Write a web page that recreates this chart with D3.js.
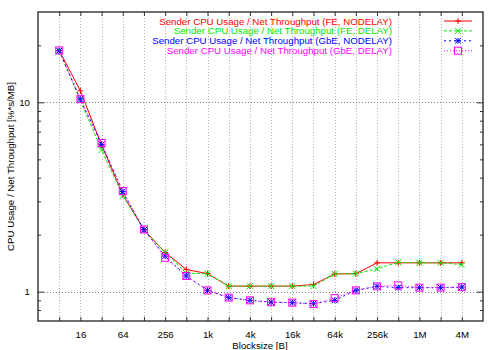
<!DOCTYPE html>
<html>
<head>
<meta charset="utf-8">
<script src="https://cdnjs.cloudflare.com/ajax/libs/d3/7.8.5/d3.min.js"></script>
<style>
  body { margin: 0; background: #fff; }
  svg text { font-family: "Liberation Sans", Arial, Helvetica, sans-serif; }
</style>
</head>
<body>
<div id="chart"></div>
<script>
// block sizes in bytes (8 .. 4M)
var blocksizes = [8, 16, 32, 64, 128, 256, 512, 1024, 2048, 4096, 8192, 16384, 32768,
                  65536, 131072, 262144, 524288, 1048576, 2097152, 4194304];

// sender CPU usage / net throughput [%*s/MB]
var feNodelay  = [18.8, 11.5, 5.95, 3.25, 2.13, 1.61, 1.31, 1.245, 1.07, 1.07, 1.07, 1.07, 1.09, 1.24, 1.245, 1.42, 1.42, 1.42, 1.42, 1.42];
var feDelay    = [18.8, 10.2, 5.6, 3.22, 2.12, 1.61, 1.25, 1.245, 1.07, 1.07, 1.07, 1.07, 1.07, 1.24, 1.245, 1.32, 1.43, 1.42, 1.42, 1.39];
var gbeNodelay = [18.7, 10.4, 6.0, 3.38, 2.12, 1.54, 1.21, 1.016, 0.93, 0.90, 0.88, 0.875, 0.864, 0.90, 1.016, 1.067, 1.05, 1.05, 1.05, 1.057];
var gbeDelay   = [18.8, 10.4, 6.1, 3.40, 2.13, 1.51, 1.21, 1.016, 0.93, 0.90, 0.88, 0.875, 0.86, 0.925, 1.016, 1.067, 1.08, 1.05, 1.05, 1.057];

var seriesNames = ["Sender CPU Usage / Net Throughput (FE, NODELAY)",
                   "Sender CPU Usage / Net Throughput (FE, DELAY)",
                   "Sender CPU Usage / Net Throughput (GbE, NODELAY)",
                   "Sender CPU Usage / Net Throughput (GbE, DELAY)"];

// tick labels
var xTickValues = [16, 64, 256, 1024, 4096, 16384, 65536, 262144, 1048576, 4194304];
var xTickLabels = ["16", "64", "256", "1k", "4k", "16k", "64k", "256k", "1M", "4M"];
var yTickValues = [1, 10];
var yTickLabels = ["1", "10"];
var yMinorTicks = [0.8, 0.9, 2, 3, 4, 5, 6, 7, 8, 9, 20];

var w = 500, h = 350;
var margin = {top: 12, right: 17, bottom: 29, left: 38};
var iw = w - margin.left - margin.right;
var ih = h - margin.top - margin.bottom;
var fontSize = "9.7px";

var svg = d3.select("#chart").append("svg")
  .attr("width", w).attr("height", h);

var g = svg.append("g").attr("transform", "translate(" + margin.left + "," + margin.top + ")");

var x = d3.scaleLog().base(2).domain([4, 8388608]).range([0, iw]);
var y = d3.scaleLog().domain([0.7, 30]).range([ih, 0]);

//grid: vertical at every block size, horizontal at decades
g.append("g").selectAll("line").data(blocksizes).enter().append("line")
  .attr("x1", function(d){ return Math.round(x(d)) + 0.5; })
  .attr("x2", function(d){ return Math.round(x(d)) + 0.5; })
  .attr("y1", 0).attr("y2", ih)
  .attr("stroke", "#b0b0b0").attr("stroke-width", 1).attr("stroke-dasharray", "1,2");

g.append("g").selectAll("line").data(yTickValues).enter().append("line")
  .attr("x1", 0).attr("x2", iw)
  .attr("y1", function(d){ return Math.round(y(d)) + 0.5; })
  .attr("y2", function(d){ return Math.round(y(d)) + 0.5; })
  .attr("stroke", "#808080").attr("stroke-width", 1).attr("stroke-dasharray", "1,2");

// axes (ticks on all four sides, like gnuplot)
var xBottom = d3.axisBottom(x).tickValues(blocksizes).tickFormat("");
var xTop = d3.axisTop(x).tickValues(blocksizes).tickFormat("");
var xLab = d3.axisBottom(x).tickValues(xTickValues).tickSize(0).tickPadding(10)
  .tickFormat(function(d, i){ return xTickLabels[i]; });

g.append("g").attr("class", "axis").attr("transform", "translate(0," + ih + ")").call(xBottom.tickSizeInner(-4).tickSizeOuter(0));
g.append("g").attr("class", "axis").call(xTop.tickSizeInner(-4).tickSizeOuter(0));
g.append("g").attr("class", "lab").attr("transform", "translate(0," + ih + ")").call(xLab);

g.append("g").attr("class", "axis").call(d3.axisLeft(y).tickValues(yTickValues).tickSizeInner(-6).tickSizeOuter(0).tickPadding(8)
  .tickFormat(function(d, i){ return yTickLabels[i]; }));
g.append("g").attr("class", "axis").call(d3.axisLeft(y).tickValues(yMinorTicks).tickSizeInner(-3).tickSizeOuter(0).tickFormat(""));
g.append("g").attr("class", "axis").attr("transform", "translate(" + iw + ",0)")
  .call(d3.axisRight(y).tickValues(yTickValues).tickSizeInner(-6).tickSizeOuter(0).tickFormat(""));
g.append("g").attr("class", "axis").attr("transform", "translate(" + iw + ",0)")
  .call(d3.axisRight(y).tickValues(yMinorTicks).tickSizeInner(-3).tickSizeOuter(0).tickFormat(""));

g.selectAll(".axis .domain").remove();
g.selectAll(".lab .domain").remove();
g.selectAll(".axis line").attr("stroke", "#333");
g.selectAll(".axis text, .lab text").attr("font-size", fontSize).attr("fill", "#000")
  .style("font-family", "Liberation Sans, Arial, sans-serif");

// border
g.append("rect").attr("x", 0).attr("y", 0).attr("width", iw).attr("height", ih)
  .attr("fill", "none").attr("stroke", "#222").attr("stroke-width", 1.3);

// axis titles
svg.append("text").attr("x", margin.left + 222).attr("y", 349)
  .attr("text-anchor", "middle").attr("font-size", fontSize).text("Blocksize [B]");
svg.append("text").attr("transform", "translate(14," + (margin.top + ih / 2) + ") rotate(-90)")
  .attr("text-anchor", "middle").attr("font-size", fontSize).text("CPU Usage / Net Throughput [%*s/MB]");

// series
var series = [
  {name: seriesNames[0], values: feNodelay,  color: "#ff0000", dash: null,   mark: "plus"},
  {name: seriesNames[1], values: feDelay,    color: "#00ee00", dash: "3,2",  mark: "cross"},
  {name: seriesNames[2], values: gbeNodelay, color: "#0000ff", dash: "2,3",  mark: "star"},
  {name: seriesNames[3], values: gbeDelay,   color: "#ff00ff", dash: "1,2",  mark: "box"}
];

var line = d3.line()
  .x(function(d, i){ return x(blocksizes[i]); })
  .y(function(d){ return y(d); });

function drawMark(sel, type, color) {
  var s = 3;
  if (type == "plus" || type == "star") {
    sel.append("path").attr("d", "M" + (-s) + ",0H" + s + "M0," + (-s) + "V" + s)
      .attr("stroke", color).attr("fill", "none");
  }
  if (type == "cross" || type == "star") {
    sel.append("path").attr("d", "M" + (-s) + "," + (-s) + "L" + s + "," + s + "M" + (-s) + "," + s + "L" + s + "," + (-s))
      .attr("stroke", color).attr("fill", "none");
  }
  if (type == "box") {
    sel.append("rect").attr("x", -3.5).attr("y", -3.5).attr("width", 7).attr("height", 7)
      .attr("stroke", color).attr("fill", "none");
  }
}

series.forEach(function(s){
  g.append("path").datum(s.values)
    .attr("d", line)
    .attr("fill", "none")
    .attr("stroke", s.color)
    .attr("stroke-width", 1)
    .attr("stroke-dasharray", s.dash);

  g.append("g").selectAll("g").data(s.values).enter().append("g")
    .attr("transform", function(d, i){ return "translate(" + x(blocksizes[i]) + "," + y(d) + ")"; })
    .each(function(){ drawMark(d3.select(this), s.mark, s.color); });
});

// legend
var legend = svg.append("g").attr("transform", "translate(0,24.5)");
series.forEach(function(s, i){
  var row = legend.append("g").attr("transform", "translate(0," + (i * 9.9) + ")");
  row.append("text").attr("x", 392).attr("y", 0).attr("text-anchor", "end")
    .attr("font-size", fontSize).attr("fill", s.color).text(s.name);
  row.append("line").attr("x1", 444).attr("x2", 472).attr("y1", -3.5).attr("y2", -3.5)
    .attr("stroke", s.color).attr("stroke-dasharray", s.dash);
  var m = row.append("g").attr("transform", "translate(458,-3.5)");
  drawMark(m, s.mark, s.color);
});
</script>
</body>
</html>
